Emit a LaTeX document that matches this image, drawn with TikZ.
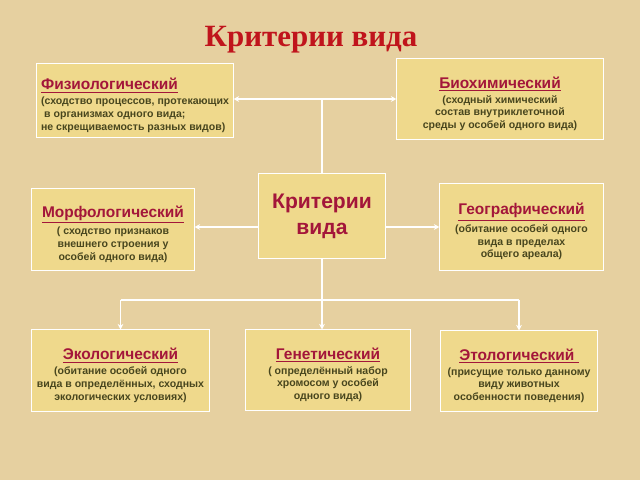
\documentclass[tikz,border=0pt]{standalone}
\usepackage{fontspec}
\setmainfont{Liberation Serif}
\setsansfont{Liberation Sans}
\usetikzlibrary{arrows.meta, positioning, calc}
\definecolor{parchment}{HTML}{E6D0A0}
\definecolor{cardyellow}{HTML}{EFD98C}
\definecolor{crimsonhead}{HTML}{A3163A}
\definecolor{olivetext}{HTML}{48461E}
\definecolor{titlered}{HTML}{C0141C}
\newcommand{\crithead}[1]{{\fontsize{11}{13}\selectfont\color{crimsonhead}\rule{0pt}{15pt}\underline{#1}}}

\begin{document}
\begin{tikzpicture}[x=0.025cm, y=-0.025cm, font=\sffamily,
  card/.style={draw=white, line width=0.7pt, fill=cardyellow, align=center, text=olivetext,
    font=\sffamily\bfseries\fontsize{7.5}{9.1}\selectfont, inner sep=2pt},
  link/.style={draw=white, line width=0.8pt},
  arr/.style={link, -{Stealth[length=4pt,width=4pt]}}]
  % Background
  \fill[parchment] (0,0) rectangle (640,480);
  \node[font=\rmfamily\bfseries\fontsize{22}{24}\selectfont, text=titlered] (title) at (311,40) {Критерии вида};

  % Top row
  \node[card, align=left, minimum width=4.9cm, minimum height=1.825cm] (fiz) at (135,100.5)
    {\crithead{Физиологический}\\[1.5pt](сходство процессов, протекающих\\\hspace{0.3em}в организмах одного вида;\\не скрещиваемость разных видов)};
  \node[card, minimum width=5.15cm, minimum height=2cm] (bio) at (500,99)
    {\crithead{Биохимический}\\[1.5pt](сходный химический\\состав внутриклеточной\\среды у особей одного вида)};

  % Middle row
  \node[card, minimum width=3.15cm, minimum height=2.1cm, text=crimsonhead,
    font=\sffamily\bfseries\fontsize{15}{18.5}\selectfont] (crit) at (322,216) {Критерии\\вида};
  \node[card, minimum width=4.05cm, minimum height=2.025cm] (morf) at (113,229.5)
    {\crithead{Морфологический}\\[1.5pt]( сходство признаков\\внешнего строения у\\особей одного вида)};
  \node[card, minimum width=4.075cm, minimum height=2.15cm] (geo) at (521.5,227)
    {\crithead{Географический}\\[1.5pt](обитание особей одного\\вида в пределах\\общего ареала)};

  % Bottom row
  \node[card, minimum width=4.425cm, minimum height=2.025cm] (eco) at (120.5,370.5)
    {\crithead{Экологический}\\[1.5pt](обитание особей одного\\вида в определённых, сходных\\экологических условиях)};
  \node[card, minimum width=4.1cm, minimum height=2cm] (gen) at (328,370)
    {\crithead{Генетический}\\[1.5pt]( определённый набор\\хромосом у особей\\одного вида)};
  \node[card, minimum width=3.9cm, minimum height=2cm] (eto) at (519,371)
    {\crithead{Этологический\ }\\[1.5pt](присущие только данному\\виду животных\\особенности поведения)};

  % Connections
  \coordinate (topjoin) at (crit.north |- bio.west);
  \draw[link] (crit.north) -- (topjoin);
  \draw[arr] (topjoin) -- (bio.west);
  \draw[arr] (topjoin) -- (fiz.east |- topjoin);
  \draw[arr] (crit.west |- geo.west) -- (morf.east |- geo.west);
  \draw[arr] (crit.east |- geo.west) -- (geo.west);
  \coordinate (botjoin) at (crit.south |- 0,300);
  \draw[link] (crit.south) -- (botjoin);
  \draw[link] (eco.north |- botjoin) -- (eto.north |- botjoin);
  \draw[arr] (eco.north |- botjoin) -- (eco.north);
  \draw[arr] (botjoin) -- (botjoin |- gen.north);
  \draw[arr] (eto.north |- botjoin) -- (eto.north);
\end{tikzpicture}
\end{document}
